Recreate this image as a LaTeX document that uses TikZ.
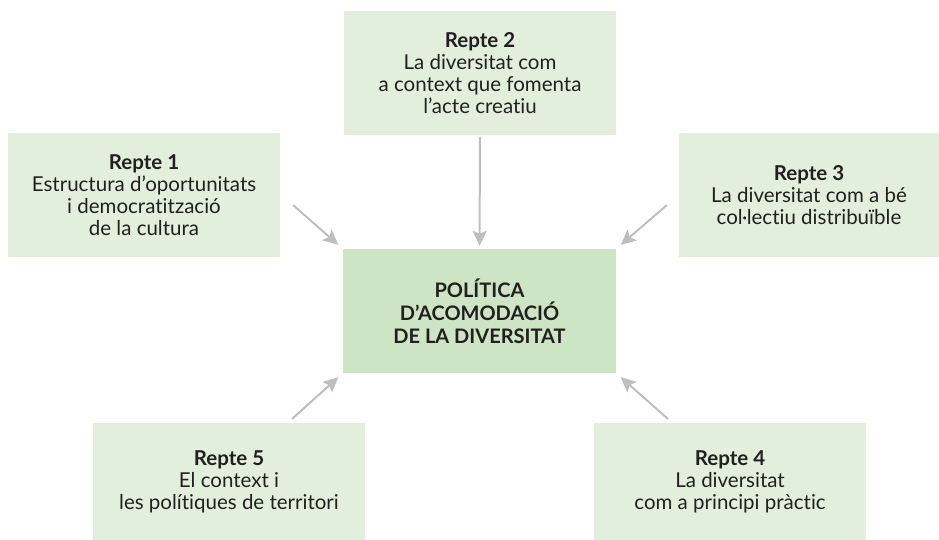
\documentclass[tikz,border=0pt]{standalone}
\usepackage{fontspec}
\setmainfont{Lato}[Ligatures=NoCommon]
\usepackage{tikz}
\usetikzlibrary{arrows.meta}
\definecolor{repteFill}{HTML}{E2EFDC}
\definecolor{centreFill}{HTML}{CDE5C4}
\definecolor{fletxaGray}{HTML}{BDBEC2}
\definecolor{textDark}{HTML}{231F20}

\begin{document}
\begin{tikzpicture}[x=1pt,y=1pt,
  repte/.style={fill=repteFill,text=textDark,align=center,minimum width=272pt,minimum height=124pt,inner sep=0pt,font=\fontsize{20.5}{22}\selectfont},
  centre/.style={fill=centreFill,text=textDark,align=center,minimum width=273pt,minimum height=124pt,inner sep=0pt,font=\fontsize{20}{23}\selectfont\bfseries},
  fletxa/.style={draw=fletxaGray,line width=2pt,-{Stealth[length=15pt,width=14pt,inset=3pt]}}]
\useasboundingbox (0,0) rectangle (939,540);
\node at (479.5,229) [centre] (Politica) {POLÍTICA\\D’ACOMODACIÓ\\DE LA DIVERSITAT};
\node at (144,345) [repte] (Repte1) {\textbf{Repte 1}\\Estructura d’oportunitats\\i democratització\\de la cultura};
\node at (480,467) [repte] (Repte2) {\textbf{Repte 2}\\La diversitat com\\a context que fomenta\\l’acte creatiu};
\node at (809,345) [repte,minimum width=260pt] (Repte3) {\textbf{Repte 3}\\La diversitat com a bé\\col·lectiu distribuïble};
\node at (730,58.5) [repte,minimum height=117pt] (Repte4) {\textbf{Repte 4}\\La diversitat\\com a principi pràctic};
\node at (229,58.5) [repte,minimum height=117pt] (Repte5) {\textbf{Repte 5}\\El context i\\les polítiques de territori};
\coordinate (Tail1) at (293,335);
\coordinate (Tail3) at (667,335);
\coordinate (Tail4) at (668,121);
\coordinate (Tail5) at (292,121);
\draw [fletxa,shorten >=6pt] (Tail1) -- (Politica.north west);
\draw [fletxa,shorten <=2pt,shorten >=3pt] (Repte2) -- (Politica);
\draw [fletxa,shorten >=6pt] (Tail3) -- (Politica.north east);
\draw [fletxa,shorten >=6pt] (Tail4) -- (Politica.south east);
\draw [fletxa,shorten >=6pt] (Tail5) -- (Politica.south west);
\end{tikzpicture}
\end{document}
